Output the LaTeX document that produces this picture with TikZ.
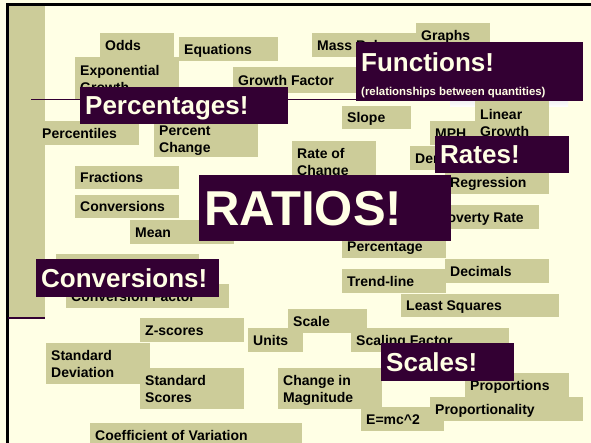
\documentclass[tikz,border=0pt]{standalone}
\usepackage{fontspec}
\setmainfont{Liberation Sans}
\setlength{\parindent}{0pt}
\definecolor{sand}{HTML}{CCCC99}
\definecolor{plum}{HTML}{330033}
\definecolor{cream}{HTML}{FFFFE5}
\definecolor{shade}{HTML}{B2B2B2}
\newcommand{\termfont}{\fontsize{14}{17}\selectfont\bfseries}
\newcommand{\headfont}{\fontsize{26}{28}\selectfont\bfseries}
\tikzset{
  term/.style={fill=sand, anchor=north west, inner xsep=5pt, inner ysep=0pt,
    align=left, font=\termfont, text height=10pt, text depth=0pt,
    execute at begin node={\spaceskip=0pt\xspaceskip=0pt}},
  term2/.style={term, text depth=17pt},
  head/.style={fill=plum, text=cream, anchor=north west, inner xsep=5pt,
    inner ysep=0pt, align=left, font=\headfont, text height=18.6pt, text depth=0pt,
    execute at begin node={\spaceskip=0pt\xspaceskip=0pt}},
}
\begin{document}
\begin{tikzpicture}[x=1pt,y=-1pt]
\useasboundingbox[fill=cream] (0,0) rectangle (591,443);
% frame and side bar
\fill[black] (6,3) rectangle (591,6);
\fill[black] (6,3) rectangle (9,443);
\fill[sand] (9,6) rectangle (45,318);
\draw[plum, line width=2pt] (8,318) -- (45,318);

% top row
\node [term, text width=64pt, minimum height=25pt] (n1) at (100,33) {Odds};
\node [term, text width=89pt, minimum height=24pt] (n2) at (179,37) {Equations};
\node [term, text width=100pt, minimum height=24pt] (n3) at (312,33) {Mass Balance};
\node [term, text width=64pt, minimum height=25pt] (n4) at (416,23) {Graphs};
\node [term2, text width=94pt, minimum height=43pt] (n5) at (75,57) {Exponential\\Growth};
\node [term, text width=117pt, minimum height=26pt] (n6) at (233,67) {Growth Factor};
\draw[plum] (31,99) -- (570,99);
\fill[shade] (450,50) rectangle (568,107);

% middle
\node [term, text width=40pt, minimum height=24pt] (n7) at (430,121) {MPH};
\node [term2, text width=64pt, minimum height=46pt] (n8) at (475,100) {Linear\\Growth};
\node [term, text width=59pt, minimum height=23pt] (n9) at (342,106) {Slope};
\node [term, text width=92pt, minimum height=24pt] (n10) at (37,121) {Percentiles};
\node [term2, text width=94pt, minimum height=37pt] (n11) at (154,120) {Percent\\Change};
\node [term2, text width=74pt, minimum height=42pt] (n12) at (292,141) {Rate of\\Change};
\node [term, text width=70pt, minimum height=24pt] (n13) at (410,146) {Density};
\node [term, text width=94pt, minimum height=24pt] (n14) at (445,170) {Regression};
\node [term, text width=94pt, minimum height=23pt] (n15) at (75,166) {Fractions};
\node [term, text width=94pt, minimum height=23pt] (n16) at (75,195) {Conversions};
\node [term, text width=94pt, minimum height=24pt] (n17) at (130,220) {Mean};
\node [term, text width=96pt, minimum height=24pt] (n18) at (433,205) {Poverty Rate};
\node [term, text width=94pt, minimum height=23pt] (n19) at (342,235) {Percentage};
\node [term, text width=94pt, minimum height=24pt] (n20) at (445,259) {Decimals};
\node [term, text width=94pt, minimum height=24pt] (n21) at (342,269) {Trend-line};
\node [term, text width=133pt, minimum height=30pt] (n22) at (56,254) {};
\node [term, text width=153pt, minimum height=24pt] (n23) at (66,284) {Conversion Factor};
\node [term, text width=148pt, minimum height=23pt] (n24) at (401,294) {Least Squares};

% bottom
\node [term, text width=69pt, minimum height=24pt] (n25) at (288,309) {Scale};
\node [term, text width=94pt, minimum height=24pt] (n26) at (140,318) {Z-scores};
\node [term, text width=45pt, minimum height=24pt] (n27) at (248,328) {Units};
\node [term, text width=148pt, minimum height=24pt] (n28) at (351,328) {Scaling Factor};
\node [term2, text width=94pt, minimum height=41pt] (n29) at (46,343) {Standard\\Deviation};
\node [term2, text width=94pt, minimum height=41pt] (n30) at (140,368) {Standard\\Scores};
\node [term2, text width=94pt, minimum height=41pt] (n31) at (278,368) {Change in\\Magnitude};
\node [term, text width=94pt, minimum height=24pt] (n32) at (465,373) {Proportions};
\node [term, text width=73pt, minimum height=24pt] (n34) at (361,407) {E=mc\textasciicircum 2};
\node [term, text width=143pt, minimum height=24pt] (n33) at (430,397) {Proportionality};
\node [term, text width=202pt, minimum height=24pt] (n35) at (90,423) {Coefficient of Variation};

% headings
\node [head, text width=198pt, minimum height=37pt] (h1) at (80,87) {Percentages!};
\node [head, text width=217pt, text height=29pt, text depth=30pt] (h2) at (356,42)
  {Functions!\par{\fontsize{11.4}{24}\selectfont (relationships between quantities)\par}};
\node [head, text width=124pt, minimum height=37pt] (h3) at (435,136) {Rates!};
\node [head, text width=242pt, minimum height=66pt, text height=35pt,
  font=\fontsize{49}{51}\selectfont\bfseries] (h4) at (199,175) {RATIOS!};
\node [head, text width=173pt, minimum height=38pt] (h5) at (36,259) {Conversions!};
\node [head, text width=123pt, minimum height=38pt] (h6) at (381,343) {Scales!};
\end{tikzpicture}
\end{document}
